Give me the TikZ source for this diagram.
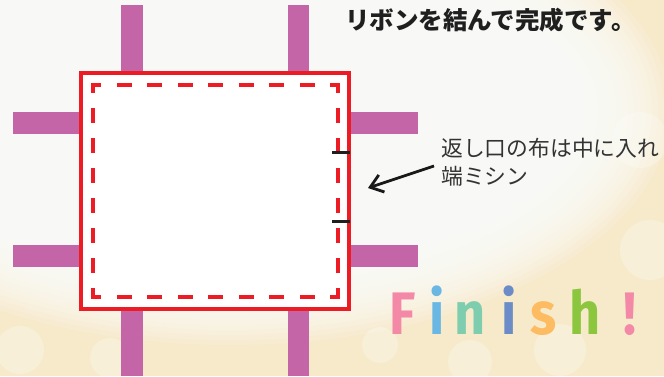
\documentclass[tikz,border=0pt]{standalone}
\usepackage{fontspec}
\newfontfamily\jp{Noto Sans CJK JP}
\newfontfamily\fin{Fira Sans}
\usetikzlibrary{arrows.meta}
\definecolor{cream}{HTML}{F6EACB}
\definecolor{ribbon}{HTML}{C365A6}
\definecolor{sewred}{HTML}{ED1C24}
\definecolor{fpink}{HTML}{F388A7}
\definecolor{fblue}{HTML}{6BB7E4}
\definecolor{fgreen}{HTML}{7FCDAF}
\definecolor{fnavy}{HTML}{6C8CC8}
\definecolor{forange}{HTML}{FDBB62}
\definecolor{flime}{HTML}{8CC63F}
\tikzset{
  ribbonbar/.style={fill=ribbon, draw=none},
  letter/.style={font=\fin\bfseries\fontsize{60}{60}\selectfont, anchor=base, inner sep=0pt, xscale=0.9},
  stitchh/.style={sewred, line width=4pt, line cap=rect, dash pattern=on 11pt off 19.5pt, dash phase=5pt},
  stitchv/.style={sewred, line width=4pt, line cap=rect, dash pattern=on 11pt off 19.1pt, dash phase=5pt},
  tickmark/.style={black!88, line width=3pt},
}
\begin{document}
\begin{tikzpicture}[x=1pt, y=-1pt]
\useasboundingbox (0,0) rectangle (664,376);
% background
\fill[cream] (0,0) rectangle (664,376);
\foreach \k in {0,...,14}{
  \fill[white, opacity=0.14] (230,110) ellipse ({440-6*\k} and {235-5*\k});
}
\foreach \cx/\cy/\r in {640/140/28, 650/250/30, 560/350/26, 470/362/22, 20/350/24, 110/358/20, 380/345/18}{
  \fill[white, opacity=0.25] (\cx,\cy) circle (\r);
}
% ribbons
\fill[ribbonbar] (121,5) rectangle (143,73);
\fill[ribbonbar] (288,5) rectangle (309,73);
\fill[ribbonbar] (121,309) rectangle (143,376);
\fill[ribbonbar] (288,309) rectangle (309,376);
\fill[ribbonbar] (13,112) rectangle (81,134);
\fill[ribbonbar] (13,245) rectangle (81,267);
\fill[ribbonbar] (349,112) rectangle (418,134);
\fill[ribbonbar] (349,245) rectangle (418,267);
% cloth
\draw[sewred, line width=4pt, fill=white] (81,73) rectangle (349,309);
\coordinate (c1) at (93,84.5);
\coordinate (c2) at (338,84.5);
\coordinate (c3) at (338,296.5);
\coordinate (c4) at (93,296.5);
\draw[stitchh] (c1) -- (c2);
\draw[stitchh] (c4) -- (c3);
\draw[stitchv] (c1) -- (c4);
\draw[stitchv] (c2) -- (c3);
% opening marks
\coordinate (m1a) at (332,152);
\coordinate (m1b) at (350,152);
\coordinate (m2a) at (332,221);
\coordinate (m2b) at (350,221);
\draw[tickmark] (m1a) -- (m1b);
\draw[tickmark] (m2a) -- (m2b);
% title
\node[anchor=west, inner sep=0pt, text=black!88, font=\jp\bfseries\fontsize{24.5}{24.5}\selectfont] (title) at (345,20) {リボンを結んで完成です。};
% annotation
\node[anchor=north west, inner sep=0pt, align=left, font=\jp\fontsize{21.8}{28}\selectfont, text=black!80] (note) at (441,138) {返し口の布は中に入れ\\端ミシン};
\coordinate (tail) at (434,166);
\coordinate (tip) at (368,188);
\draw[black!90, line width=2.8pt, -{Straight Barb[length=12pt, width=18pt, line width=2.8pt]}] (tail) -- (tip);
% Finish!
\node[letter, text=fpink] (f1) at (403,334) {F};
\node[letter, text=fblue] (f2) at (437,334) {i};
\node[letter, text=fgreen] (f3) at (470,334) {n};
\node[letter, text=fnavy] (f4) at (509,334) {i};
\node[letter, text=forange] (f5) at (544,334) {s};
\node[letter, text=flime] (f6) at (585,334) {h};
\node[letter, text=fpink] (f7) at (630,334) {!};
\end{tikzpicture}
\end{document}
